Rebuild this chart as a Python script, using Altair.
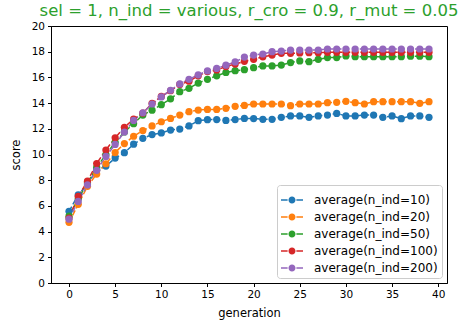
import altair as alt
import pandas as pd

generations = list(range(40))

n10 = [5.58, 6.85, 7.7, 8.8, 9.1, 9.72, 10.14, 10.8, 11.26, 11.55,
       11.68, 11.9, 11.98, 12.22, 12.63, 12.71, 12.72, 12.65, 12.72, 12.81,
       12.8, 12.74, 12.74, 12.89, 13.0, 13.0, 12.89, 13.0, 13.07, 13.2,
       13.0, 13.0, 13.07, 13.07, 12.89, 13.0, 12.79, 13.0, 13.0, 12.89]
n20 = [4.72, 6.12, 7.52, 8.48, 9.28, 10.15, 10.85, 11.42, 11.86, 12.22,
       12.55, 12.81, 13.07, 13.33, 13.46, 13.51, 13.51, 13.59, 13.75, 13.82,
       13.93, 13.93, 13.93, 13.93, 13.80, 13.93, 13.93, 13.93, 14.03, 14.06,
       14.14, 14.03, 13.93, 14.11, 14.11, 14.11, 14.11, 14.11, 13.98, 14.11]
n50 = [5.2, 6.55, 7.8, 9.0, 10.0, 10.95, 11.75, 12.4, 13.07, 13.45,
       13.88, 14.33, 14.89, 15.15, 15.56, 15.85, 16.12, 16.38, 16.52, 16.6,
       16.76, 16.89, 16.89, 16.96, 17.15, 17.28, 17.22, 17.41, 17.54, 17.54,
       17.67, 17.61, 17.61, 17.61, 17.61, 17.61, 17.61, 17.65, 17.65, 17.61]
n100 = [5.05, 6.75, 7.92, 9.3, 10.35, 11.3, 12.12, 12.75, 13.22, 13.98,
        14.52, 14.96, 15.45, 15.7, 16.12, 16.45, 16.58, 16.84, 17.04, 17.25,
        17.41, 17.6, 17.74, 17.87, 17.87, 17.9, 17.92, 17.92, 17.95, 17.95,
        17.95, 17.95, 17.95, 17.95, 17.95, 17.95, 17.95, 17.95, 17.95, 17.95]
n200 = [4.97, 6.35, 7.63, 8.77, 9.85, 10.78, 11.75, 12.65, 13.25, 13.93,
        14.48, 15.0, 15.49, 15.85, 16.2, 16.5, 16.7, 16.95, 17.2, 17.58,
        17.74, 17.82, 18.0, 18.05, 18.13, 18.13, 18.13, 18.13, 18.21, 18.21,
        18.21, 18.21, 18.21, 18.21, 18.21, 18.21, 18.21, 18.21, 18.21, 18.21]

series_names = ["average(n_ind=10)", "average(n_ind=20)", "average(n_ind=50)",
                "average(n_ind=100)", "average(n_ind=200)"]
series_values = [n10, n20, n50, n100, n200]
colors = ["#1f77b4", "#ff7f0e", "#2ca02c", "#d62728", "#9467bd"]
x_ticks = [0, 5, 10, 15, 20, 25, 30, 35, 40]
y_ticks = [0, 2, 4, 6, 8, 10, 12, 14, 16, 18, 20]

rows = []
for k, (name, vals) in enumerate(zip(series_names, series_values)):
    for g, v in zip(generations, vals):
        rows.append({"generation": g, "score": v, "series": name, "order": k})
df = pd.DataFrame(rows)

FONT = "DejaVu Sans"

# legend symbol: dash - circle - dash
legend_path = ("M-1,-0.07L-0.4,-0.07L-0.4,0.07L-1,0.07Z "
               "M0.4,-0.07L1,-0.07L1,0.07L0.4,0.07Z "
               "M-0.32,0A0.32,0.32 0 1,0 0.32,0A0.32,0.32 0 1,0 -0.32,0Z")

legend = alt.Legend(
    title=None, orient="bottom-right", offset=5,
    symbolType=legend_path, symbolSize=484, symbolStrokeWidth=0,
    labelFont=FONT, labelFontSize=12, labelColor="#000000",
    fillColor="white", strokeColor="#cccccc", cornerRadius=3,
    padding=4, rowPadding=0, labelOffset=11,
)

color = alt.Color("series:N", scale=alt.Scale(domain=series_names, range=colors),
                  legend=legend)

x = alt.X("generation:Q",
          scale=alt.Scale(domain=[-1.95, 40.95], nice=False, zero=False),
          axis=alt.Axis(values=x_ticks, title="generation", grid=False,
                        tickSize=3.5, labelPadding=3, titlePadding=7))
y = alt.Y("score:Q",
          scale=alt.Scale(domain=[0, 20], nice=False),
          axis=alt.Axis(values=y_ticks, title="score", grid=False,
                        tickSize=3.5, labelPadding=3, titlePadding=10))

base = alt.Chart(df)
lines = base.mark_line(strokeWidth=1.5, strokeDash=[5.5, 2.4]).encode(
    x=x, y=y, color=color, detail="series:N", order="generation:Q")
points = base.mark_point(filled=True, size=52, opacity=1).encode(
    x=x, y=y, color=color, order="order:Q")

chart = alt.layer(lines, points).properties(
    width=396, height=257,
    title=alt.TitleParams("sel = 1, n_ind = various, r_cro = 0.9, r_mut = 0.05",
                          color="#2ca02c", font=FONT, fontSize=16.5,
                          fontWeight="normal", anchor="middle", offset=2),
    autosize=alt.AutoSizeParams(type="none"),
    padding={"left": 51, "top": 26, "right": 18, "bottom": 39},
).configure_view(stroke="#000000", strokeWidth=1).configure_axis(
    labelFont=FONT, titleFont=FONT, labelFontSize=10.5, titleFontSize=11.5,
    labelColor="#000000", titleColor="#000000", titleFontWeight="normal",
    domainColor="#000000", tickColor="#000000", domainWidth=1, tickWidth=1,
)

chart.save("out.html", embed_options={"renderer": "svg", "actions": False})
